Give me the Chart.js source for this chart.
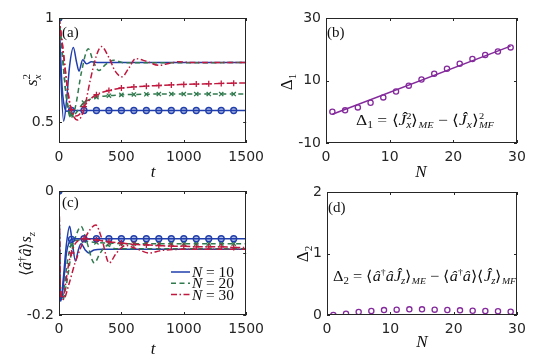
<!DOCTYPE html>
<html>
<head>
<meta charset="utf-8">
<script src="https://cdn.jsdelivr.net/npm/chart.js@4.4.0/dist/chart.umd.min.js"></script>
<style>
  body { margin: 0; background: #fff; }
  #fig { position: relative; width: 540px; height: 354px; }
  #fig canvas { position: absolute; }
</style>
</head>
<body>
<div id="fig">
  <canvas id="ca" width="270" height="177" style="left:0;top:0"></canvas>
  <canvas id="cb" width="270" height="177" style="left:270px;top:0"></canvas>
  <canvas id="cc" width="270" height="177" style="left:0;top:177px"></canvas>
  <canvas id="cd" width="270" height="177" style="left:270px;top:177px"></canvas>
</div>
<script>
// ---- données ----

// grille de temps commune aux courbes "MF" (marqueurs tous les 100)
const tMF = [0, 10, 20, 30, 45, 60, 80, 100, 130, 160, 200, 250, 300, 400, 500, 600, 700, 800, 900, 1000, 1100, 1200, 1300, 1400, 1500];

// (a) s_x^2
const tA10me = [0, 15, 37, 60, 85, 115, 140, 160, 190, 220, 260, 320, 1500];
const sA10me = [1, 0.72, 0.505, 0.6, 0.77, 0.858, 0.79, 0.745, 0.80, 0.78, 0.79, 0.786, 0.786];
const tA20me = [0, 20, 45, 70, 95, 130, 180, 235, 270, 320, 370, 440, 520, 1500];
const sA20me = [1, 0.88, 0.7, 0.57, 0.52, 0.57, 0.74, 0.853, 0.8, 0.748, 0.775, 0.797, 0.785, 0.786];
const tA30me = [0, 30, 60, 90, 120, 150, 200, 250, 300, 340, 400, 450, 505, 560, 615, 700, 800, 880, 960, 1060, 1500];
const sA30me = [1, 0.86, 0.7, 0.58, 0.525, 0.51, 0.56, 0.7, 0.82, 0.863, 0.81, 0.745, 0.718, 0.76, 0.805, 0.792, 0.773, 0.782, 0.79, 0.786, 0.786];
const sA10mf = [1, 0.85, 0.72, 0.63, 0.57, 0.553, 0.555, 0.556, 0.556, 0.556, 0.556, 0.556, 0.556, 0.556, 0.556, 0.556, 0.556, 0.556, 0.556, 0.556, 0.556, 0.556, 0.556, 0.556, 0.556];
const sA20mf = [1, 0.94, 0.87, 0.8, 0.7, 0.62, 0.56, 0.535, 0.54, 0.565, 0.594, 0.61, 0.62, 0.627, 0.631, 0.633, 0.634, 0.635, 0.635, 0.635, 0.635, 0.635, 0.635, 0.635, 0.635];
const sA30mf = [1, 0.96, 0.91, 0.86, 0.78, 0.7, 0.61, 0.56, 0.53, 0.535, 0.575, 0.61, 0.632, 0.652, 0.664, 0.669, 0.673, 0.676, 0.679, 0.681, 0.683, 0.684, 0.686, 0.687, 0.688];

// (c) <a+a> s_z
const tC10me = [0, 6, 15, 35, 60, 85, 105, 132, 155, 177, 210, 238, 280, 350, 1500];
const cC10me = [0, -0.15, -0.178, -0.14, -0.085, -0.057, -0.08, -0.113, -0.095, -0.085, -0.095, -0.1, -0.095, -0.094, -0.094];
const tC20me = [0, 10, 30, 60, 100, 140, 177, 220, 283, 330, 389, 450, 1500];
const cC20me = [0, -0.16, -0.176, -0.15, -0.1, -0.07, -0.057, -0.08, -0.116, -0.1, -0.088, -0.093, -0.093];
const tC30me = [0, 10, 35, 80, 130, 200, 250, 296, 340, 402, 460, 534, 620, 720, 820, 1000, 1500];
const cC30me = [0, -0.15, -0.175, -0.15, -0.115, -0.08, -0.062, -0.055, -0.075, -0.116, -0.1, -0.088, -0.093, -0.1, -0.096, -0.094, -0.094];
const cC10mf = [0, -0.17, -0.175, -0.16, -0.13, -0.1, -0.083, -0.078, -0.077, -0.077, -0.077, -0.077, -0.077, -0.077, -0.077, -0.077, -0.077, -0.077, -0.077, -0.077, -0.077, -0.077, -0.077, -0.077, -0.077];
const cC20mf = [0, -0.16, -0.175, -0.17, -0.15, -0.125, -0.1, -0.087, -0.08, -0.079, -0.08, -0.082, -0.083, -0.084, -0.085, -0.085, -0.085, -0.085, -0.085, -0.085, -0.085, -0.085, -0.085, -0.085, -0.085];
const cC30mf = [0, -0.15, -0.172, -0.172, -0.16, -0.14, -0.115, -0.1, -0.085, -0.079, -0.077, -0.078, -0.079, -0.082, -0.084, -0.086, -0.087, -0.088, -0.089, -0.089, -0.09, -0.09, -0.09, -0.091, -0.091];

// (b) et (d) en fonction de N
const nPts = [1, 3, 5, 7, 9, 11, 13, 15, 17, 19, 21, 23, 25, 27, 29];
const d1Pts = [0, 0.45, 1.4, 2.9, 4.6, 6.5, 8.35, 10.3, 12.2, 13.8, 15.4, 16.9, 18.2, 19.3, 20.6];
const nFit = [1, 29];
const d1Fit = [-0.8, 21.0];
const d2Pts = [0, 0.02, 0.05, 0.065, 0.08, 0.087, 0.092, 0.092, 0.087, 0.081, 0.076, 0.07, 0.065, 0.06, 0.054];

// graduations
const tTicks = [0, 500, 1000, 1500];
const tLabels = ['0', '500', '1000', '1500'];
const nTicks = [0, 10, 20, 30];
const nLabels = ['0', '10', '20', '30'];
const aTicks = [0.5, 1];
const aLabels = ['0.5', '1'];
const bTicks = [-10, 10, 30];
const bLabels = ['-10', '10', '30'];
const cTicks = [-0.2, -0.1, 0];
const cLabels = ['-0.2', '', '0'];
const dTicks = [0, 1, 2];
const dLabels = ['0', '1', '2'];

// ---- style ----
const BLEU = 'rgb(32,62,172)';
const VERT = 'rgb(48,122,78)';
const ROUGE = 'rgb(192,24,62)';
const VIOLET = 'rgb(132,42,156)';
const SERIF = '"Liberation Serif", serif';
const PW = 270, PH = 177;

const serie = (xs, ys) => xs.map((x, i) => ({ x, y: ys[i] }));
const marque = t => t % 100 === 0 && t <= 1400;

function courbeME(ts, ys, cor, dash, ordem) {
  return {
    data: serie(ts, ys), borderColor: cor, borderWidth: 1.5, borderDash: dash,
    pointRadius: 0, cubicInterpolationMode: 'monotone', fill: false, order: ordem
  };
}

function courbeMF(ts, ys, cor, dash, estilo, fundo, ordem) {
  return {
    data: serie(ts, ys), borderColor: cor, borderWidth: 1.5, borderDash: dash,
    cubicInterpolationMode: 'monotone', fill: false, order: ordem,
    pointStyle: estilo,
    pointRadius: c => (c.raw && marque(c.raw.x)) ? 3 : 0,
    pointBorderColor: cor, pointBackgroundColor: fundo, pointBorderWidth: 1.3
  };
}

// texte mathématique simple: [{t, i(italique), s(taille), dy, m(même x que le précédent)}]
function math(ctx, parts, x, y, base, mesure) {
  let cx = x, debut = x;
  parts.forEach(p => {
    const sz = p.s || base;
    ctx.font = (p.i ? 'italic ' : '') + sz + 'px ' + SERIF;
    const px = p.m ? debut : cx;
    if (!mesure) ctx.fillText(p.t, px, y + (p.dy || 0));
    const w = ctx.measureText(p.t).width;
    if (p.m) cx = Math.max(cx, px + w);
    else { debut = px; cx = px + w; }
  });
  return cx - x;
}

function mathCentre(ctx, parts, cx, cy, base, rot, larg) {
  ctx.save();
  ctx.translate(cx, cy);
  if (rot) ctx.rotate(-Math.PI / 2);
  const w = math(ctx, parts, 0, 0, base, true);
  if (larg) ctx.scale(larg / w, 1);
  math(ctx, parts, -w / 2, base * 0.33, base, false);
  ctx.restore();
}

function mathGauche(ctx, parts, x, y, base, larg) {
  ctx.save();
  ctx.translate(x, y);
  const w = math(ctx, parts, 0, 0, base, true);
  if (larg) ctx.scale(larg / w, 1);
  math(ctx, parts, 0, 0, base, false);
  ctx.restore();
}

// cadre + graduations vers l'intérieur (façon MATLAB)
const cadre = {
  id: 'cadre',
  afterDraw(chart) {
    const { ctx, chartArea: a, scales } = chart;
    const L = 3;
    ctx.save();
    ctx.strokeStyle = '#262626';
    ctx.lineWidth = 1;
    ctx.strokeRect(Math.round(a.left) + 0.5, Math.round(a.top) + 0.5,
      Math.round(a.right - a.left) - 1, Math.round(a.bottom - a.top) - 1);
    ctx.beginPath();
    scales.x.ticks.forEach(t => {
      const px = Math.round(scales.x.getPixelForValue(t.value)) + 0.5;
      ctx.moveTo(px, a.bottom); ctx.lineTo(px, a.bottom - L);
      ctx.moveTo(px, a.top); ctx.lineTo(px, a.top + L);
    });
    scales.y.ticks.forEach(t => {
      const py = Math.round(scales.y.getPixelForValue(t.value)) + 0.5;
      ctx.moveTo(a.left, py); ctx.lineTo(a.left + L, py);
      ctx.moveTo(a.right, py); ctx.lineTo(a.right - L, py);
    });
    ctx.stroke();
    ctx.restore();
  }
};

const estiloTicks = { font: { family: '"DejaVu Sans", sans-serif', size: 14 }, color: '#262626', padding: 6, maxRotation: 0, autoSkip: false };
const semGrade = { display: false, drawTicks: false, tickLength: 0 };

function criarPainel(id, c) {
  return new Chart(document.getElementById(id), {
    type: 'line',
    data: { datasets: c.datasets },
    options: {
      responsive: false, animation: false, devicePixelRatio: 1,
      layout: { padding: { left: 0, top: c.area[1], right: PW - c.area[2], bottom: 0 } },
      plugins: { legend: { display: false }, tooltip: { enabled: false } },
      scales: {
        x: {
          type: 'linear', min: c.x[0], max: c.x[1],
          grid: semGrade, border: { display: false },
          afterBuildTicks: s => { s.ticks = c.xt.map(v => ({ value: v })); },
          afterFit: s => { s.height = PH - c.area[3]; },
          ticks: { ...estiloTicks, padding: 6, callback: (v, i) => c.xl[i] }
        },
        y: {
          type: 'linear', min: c.y[0], max: c.y[1],
          grid: semGrade, border: { display: false },
          afterBuildTicks: s => { s.ticks = c.yt.map(v => ({ value: v })); },
          afterFit: s => { s.width = c.area[0]; },
          ticks: { ...estiloTicks, padding: 5, callback: (v, i) => c.yl[i] }
        }
      }
    },
    plugins: [cadre, { id: 'texte', afterDraw: ch => { const ctx = ch.ctx; ctx.save(); ctx.fillStyle = '#111'; c.draw(ctx); ctx.restore(); } }]
  });
}

const DASH = [5, 3.5];
const DASHDOT = [6, 2.5, 1.5, 2.5];

// (a)
criarPainel('ca', {
  area: [59, 18, 248, 143], x: [0, 1500], y: [0.4, 1],
  xt: tTicks, xl: tLabels, yt: aTicks, yl: aLabels,
  datasets: [
    courbeME(tA10me, sA10me, BLEU, [], 4),
    courbeMF(tMF, sA10mf, BLEU, [], 'circle', 'rgba(32,62,172,0.35)', 5),
    courbeME(tA20me, sA20me, VERT, DASH, 2),
    courbeMF(tMF, sA20mf, VERT, DASH, 'crossRot', VERT, 3),
    courbeME(tA30me, sA30me, ROUGE, DASHDOT, 0),
    courbeMF(tMF, sA30mf, ROUGE, DASHDOT, 'cross', ROUGE, 1)
  ],
  draw: ctx => {
    ctx.font = '15px ' + SERIF;
    ctx.fillText('(a)', 62, 37);
    mathCentre(ctx, [{ t: 's', i: 1 }, { t: 'x', i: 1, s: 11, dy: 4 }, { t: '2', s: 11, dy: -7, m: 1 }], 31, 80, 17, true);
    mathCentre(ctx, [{ t: 't', i: 1 }], 153, 171, 17, false);
  }
});

// (b)
criarPainel('cb', {
  area: [56, 18, 247, 143], x: [0, 30], y: [-10, 30],
  xt: nTicks, xl: nLabels, yt: bTicks, yl: bLabels,
  datasets: [
    { data: serie(nFit, d1Fit), borderColor: VIOLET, borderWidth: 1.5, pointRadius: 0, order: 1 },
    { data: serie(nPts, d1Pts), showLine: false, pointStyle: 'circle', pointRadius: 2.6, pointBorderWidth: 1.3,
      pointBorderColor: VIOLET, pointBackgroundColor: 'rgba(255,255,255,0)', order: 0 }
  ],
  draw: ctx => {
    ctx.font = '15px ' + SERIF;
    ctx.fillText('(b)', 57, 37);
    mathCentre(ctx, [{ t: 'Δ' }, { t: '1', s: 11, dy: 4 }], 16, 82, 17, true);
    mathCentre(ctx, [{ t: 'N', i: 1 }], 151, 171, 17, false);
    mathGauche(ctx, [
      { t: 'Δ' }, { t: '1', s: 10, dy: 3 }, { t: ' = ' }, { t: '⟨' }, { t: 'Ĵ', i: 1 },
      { t: '2', s: 9, dy: -6 }, { t: 'x', i: 1, s: 10, dy: 3, m: 1 }, { t: '⟩' },
      { t: 'ME', i: 1, s: 9, dy: 3 }, { t: ' − ' }, { t: '⟨' }, { t: 'Ĵ', i: 1 },
      { t: 'x', i: 1, s: 10, dy: 3 }, { t: '⟩' }, { t: '2', s: 9, dy: -6 }, { t: 'MF', i: 1, s: 9, dy: 3, m: 1 }
    ], 86, 125, 15, 138);
  }
});

// (c)
criarPainel('cc', {
  area: [59, 14, 248, 138], x: [0, 1500], y: [-0.2, 0],
  xt: tTicks, xl: tLabels, yt: cTicks, yl: cLabels,
  datasets: [
    courbeME(tC10me, cC10me, BLEU, [], 4),
    courbeMF(tMF, cC10mf, BLEU, [], 'circle', 'rgba(32,62,172,0.35)', 1),
    courbeME(tC20me, cC20me, VERT, DASH, 3),
    courbeMF(tMF, cC20mf, VERT, DASH, 'crossRot', VERT, 2),
    courbeME(tC30me, cC30me, ROUGE, DASHDOT, 0),
    courbeMF(tMF, cC30mf, ROUGE, DASHDOT, 'cross', ROUGE, 0)
  ],
  draw: ctx => {
    ctx.font = '15px ' + SERIF;
    ctx.fillText('(c)', 62, 30);
    mathCentre(ctx, [{ t: '⟨' }, { t: 'â', i: 1 }, { t: '†', s: 11, dy: -6 }, { t: 'â', i: 1 }, { t: '⟩' },
      { t: 's', i: 1 }, { t: 'z', i: 1, s: 11, dy: 4 }], 26, 77, 16, true);
    mathCentre(ctx, [{ t: 't', i: 1 }], 153, 171, 17, false);
    // légende
    const lg = [[BLEU, [], '10'], [VERT, DASH, '20'], [ROUGE, DASHDOT, '30']];
    lg.forEach((e, k) => {
      const y = 95 + k * 11.3;
      ctx.save();
      ctx.strokeStyle = e[0]; ctx.lineWidth = 1.5; ctx.setLineDash(e[1]);
      ctx.beginPath(); ctx.moveTo(171, y); ctx.lineTo(190, y); ctx.stroke();
      ctx.restore();
      mathGauche(ctx, [{ t: 'N', i: 1 }, { t: ' = ' + e[2] }], 192, y + 5, 15, 42);
    });
  }
});

// (d)
criarPainel('cd', {
  area: [57, 15, 247, 138], x: [0, 30], y: [0, 2],
  xt: nTicks, xl: nLabels, yt: dTicks, yl: dLabels,
  datasets: [
    { data: serie(nPts, d2Pts), showLine: false, pointStyle: 'circle', pointRadius: 2.6, pointBorderWidth: 1.3,
      pointBorderColor: VIOLET, pointBackgroundColor: 'rgba(255,255,255,0)' }
  ],
  draw: ctx => {
    ctx.font = '15px ' + SERIF;
    ctx.fillText('(d)', 58, 35);
    mathCentre(ctx, [{ t: 'Δ' }, { t: '2', s: 11, dy: 4 }], 32, 77, 17, true);
    mathCentre(ctx, [{ t: 'N', i: 1 }], 152, 164, 17, false);
    mathGauche(ctx, [
      { t: 'Δ' }, { t: '2', s: 10, dy: 3 }, { t: ' = ' }, { t: '⟨' }, { t: 'â', i: 1 }, { t: '†', s: 9, dy: -6 },
      { t: 'â', i: 1 }, { t: 'Ĵ', i: 1 }, { t: 'z', i: 1, s: 10, dy: 3 }, { t: '⟩' }, { t: 'ME', i: 1, s: 9, dy: 3 },
      { t: ' − ' }, { t: '⟨' }, { t: 'â', i: 1 }, { t: '†', s: 9, dy: -6 }, { t: 'â', i: 1 }, { t: '⟩' },
      { t: '⟨' }, { t: 'Ĵ', i: 1 }, { t: 'z', i: 1, s: 10, dy: 3 }, { t: '⟩' }, { t: 'MF', i: 1, s: 9, dy: 3 }
    ], 63, 104, 15, 183);
  }
});
</script>
</body>
</html>
